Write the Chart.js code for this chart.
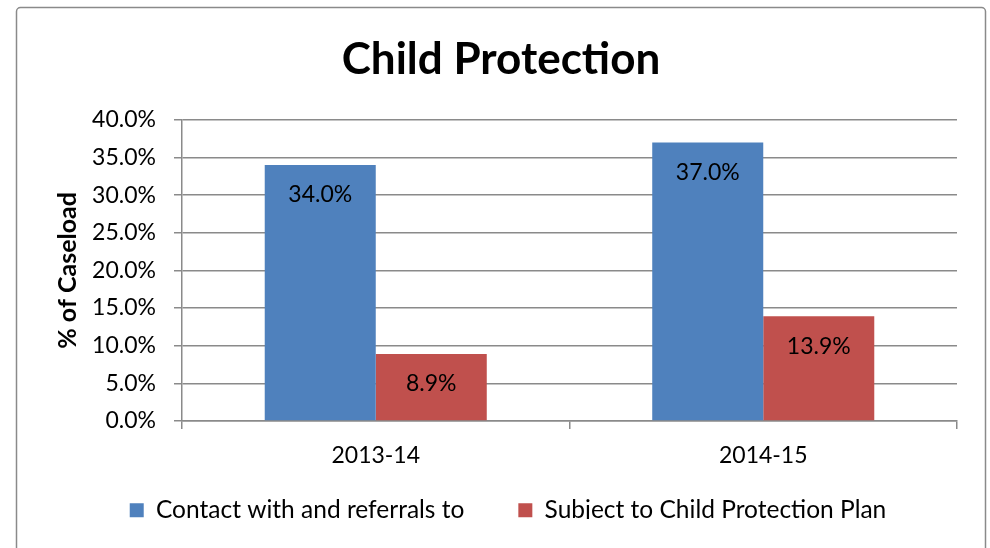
<!DOCTYPE html>
<html>
<head>
<meta charset="utf-8">
<script src="https://cdn.jsdelivr.net/npm/chart.js@4.4.1/dist/chart.umd.min.js"></script>
<style>
  html, body { margin: 0; padding: 0; background: #fff; }
  #wrap { width: 990px; height: 548px; }
</style>
</head>
<body>
<div id="wrap"><canvas id="cpChart" width="990" height="548"></canvas></div>
<script>
const anos = ['2013-14', '2014-15'];
const contatos = [34.0, 37.0];
const planos = [8.9, 13.9];
const serieNomes = ['Contact with and referrals to', 'Subject to Child Protection Plan'];
const ticksY = [0, 5, 10, 15, 20, 25, 30, 35, 40];

const fonte = 'Lato, "Open Sans", sans-serif';

// moldura cinza em volta do gráfico
const moldura = {
    id: 'moldura',
    beforeDraw(chart) {
        const ctx = chart.ctx;
        ctx.save();
        ctx.fillStyle = '#fff';
        ctx.fillRect(0, 0, chart.width, chart.height);
        ctx.strokeStyle = '#8a8a8a';
        ctx.lineWidth = 1.5;
        ctx.beginPath();
        ctx.roundRect(16.5, 7.5, 969, 620, 4);
        ctx.stroke();
        ctx.restore();
    }
};

// reposiciona a legenda (o padding grande dela empurra tudo pra baixo)
const ajusteLegenda = {
    id: 'ajusteLegenda',
    afterLayout(chart) {
        const leg = chart.legend;
        leg.left += 7;
        leg.right += 7;
        leg.top -= 29;
        leg.bottom -= 29;
    }
};

// rótulos de valor dentro da barra, perto do topo
const rotulos = {
    id: 'rotulos',
    afterDatasetsDraw(chart) {
        const ctx = chart.ctx;
        ctx.save();
        ctx.font = '23px ' + fonte;
        ctx.fillStyle = '#000';
        ctx.textAlign = 'center';
        ctx.textBaseline = 'middle';
        chart.data.datasets.forEach((ds, i) => {
            chart.getDatasetMeta(i).data.forEach((bar, j) => {
                ctx.fillText(ds.data[j].toFixed(1) + '%', bar.x, bar.y + 30);
            });
        });
        ctx.restore();
    }
};

const ctx = document.getElementById('cpChart').getContext('2d');
new Chart(ctx, {
    type: 'bar',
    data: {
        labels: anos,
        datasets: [{
            label: serieNomes[0],
            data: contatos,
            backgroundColor: '#4F81BD'
        }, {
            label: serieNomes[1],
            data: planos,
            backgroundColor: '#C0504D'
        }]
    },
    options: {
        responsive: false,
        animation: false,
        categoryPercentage: 0.573,
        barPercentage: 1,
        layout: {
            padding: { left: 45, right: 33, top: 0, bottom: 0 }
        },
        plugins: {
            tooltip: { enabled: false },
            title: {
                display: true,
                text: 'Child Protection',
                color: '#000',
                font: { family: fonte, size: 44, weight: 'bold' },
                padding: { top: 33, bottom: 34 }
            },
            legend: {
                position: 'bottom',
                maxHeight: 75,
                labels: {
                    color: '#000',
                    font: { family: fonte, size: 24.5 },
                    boxWidth: 14,
                    boxHeight: 14,
                    padding: 54
                }
            }
        },
        scales: {
            x: {
                grid: {
                    offset: true,
                    drawOnChartArea: false,
                    tickLength: 8,
                    color: '#8a8a8a',
                    lineWidth: 1.5
                },
                border: { color: '#8a8a8a', width: 1.5 },
                ticks: {
                    color: '#000',
                    font: { family: fonte, size: 23 },
                    padding: 13
                },
                afterFit(scale) { scale.height = 52; }
            },
            y: {
                min: 0,
                max: 40,
                afterBuildTicks(scale) {
                    scale.ticks = ticksY.map(v => ({ value: v }));
                },
                grid: {
                    color: '#8a8a8a',
                    lineWidth: 1.5,
                    tickLength: 8
                },
                border: { color: '#8a8a8a', width: 1.5 },
                ticks: {
                    color: '#000',
                    font: { family: fonte, size: 23 },
                    padding: 18,
                    callback: v => v.toFixed(1) + '%'
                },
                title: {
                    display: true,
                    text: '% of Caseload',
                    color: '#000',
                    font: { family: fonte, size: 25, weight: 'bold' },
                    padding: { top: 8, bottom: 0 }
                },
                afterFit(scale) { scale.width = 137; }
            }
        }
    },
    plugins: [moldura, ajusteLegenda, rotulos]
});
</script>
</body>
</html>
